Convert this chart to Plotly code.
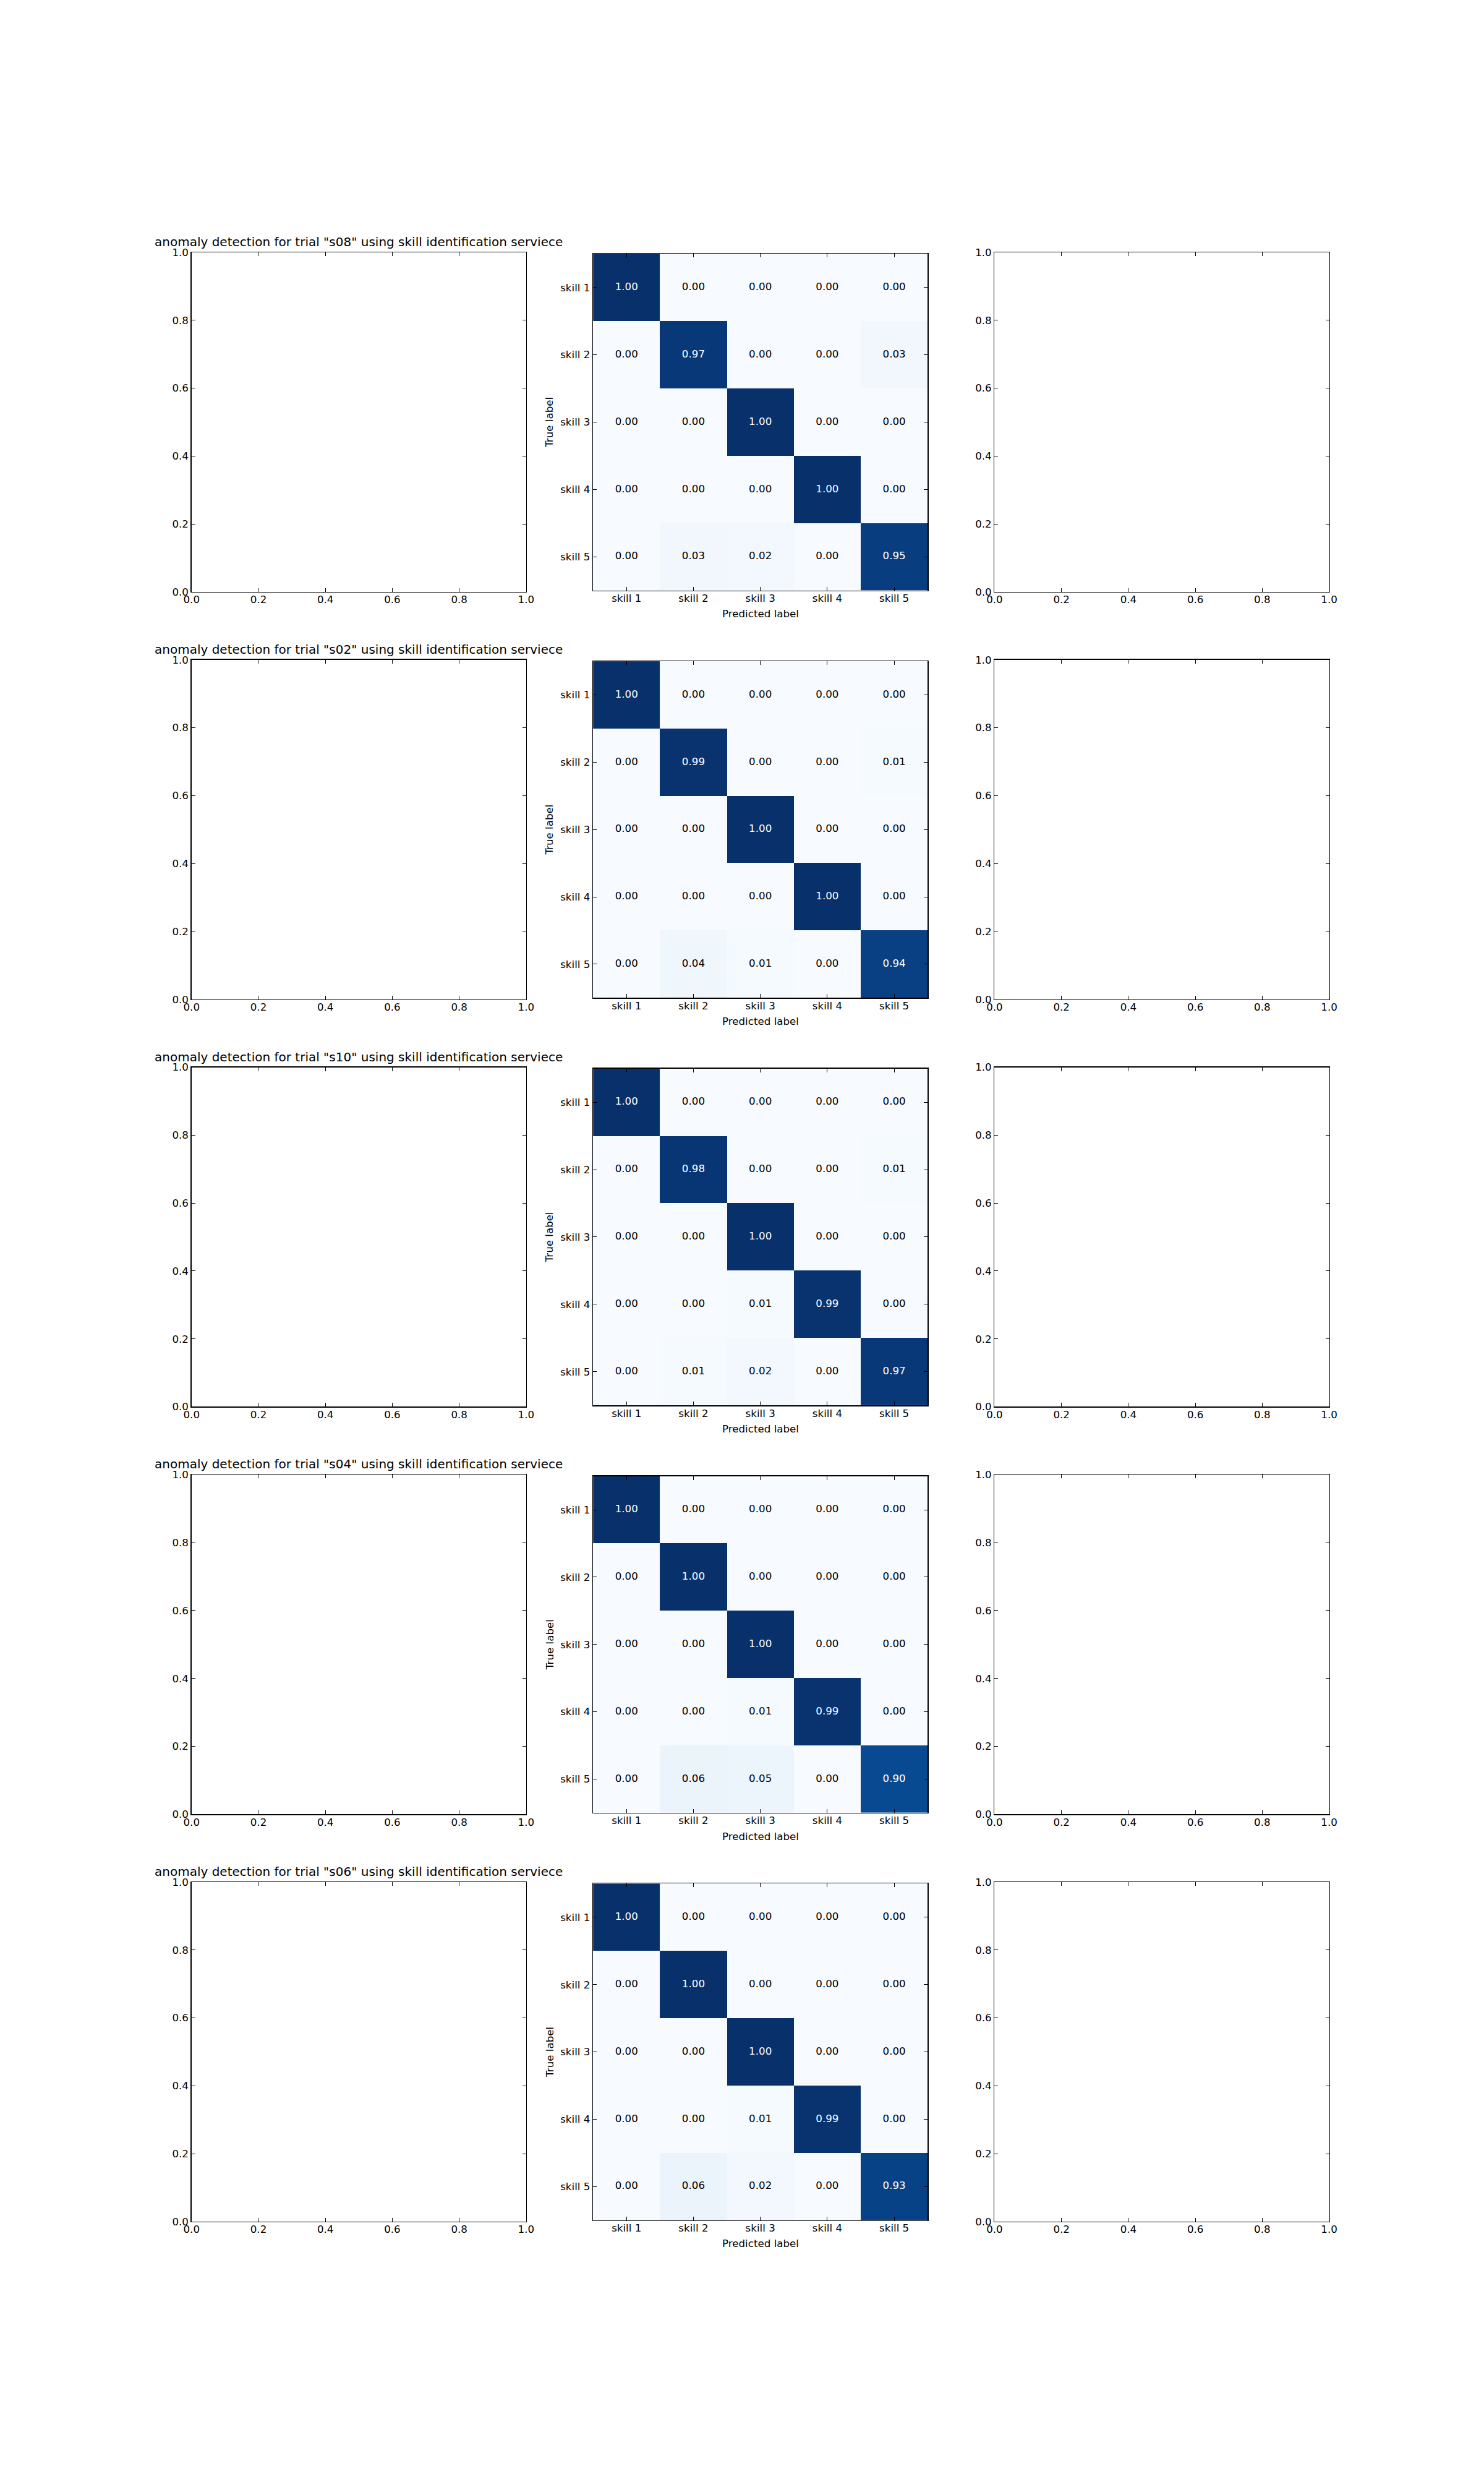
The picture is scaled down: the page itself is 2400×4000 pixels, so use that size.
import plotly.graph_objects as go

# ---------------- data ----------------
trials = ["s08", "s02", "s10", "s04", "s06"]
skills = ["skill 1", "skill 2", "skill 3", "skill 4", "skill 5"]
empty_ticks = [0.0, 0.2, 0.4, 0.6, 0.8, 1.0]

cm_s08 = [[1.00, 0.00, 0.00, 0.00, 0.00],
          [0.00, 0.97, 0.00, 0.00, 0.03],
          [0.00, 0.00, 1.00, 0.00, 0.00],
          [0.00, 0.00, 0.00, 1.00, 0.00],
          [0.00, 0.03, 0.02, 0.00, 0.95]]
cm_s02 = [[1.00, 0.00, 0.00, 0.00, 0.00],
          [0.00, 0.99, 0.00, 0.00, 0.01],
          [0.00, 0.00, 1.00, 0.00, 0.00],
          [0.00, 0.00, 0.00, 1.00, 0.00],
          [0.00, 0.04, 0.01, 0.00, 0.94]]
cm_s10 = [[1.00, 0.00, 0.00, 0.00, 0.00],
          [0.00, 0.98, 0.00, 0.00, 0.01],
          [0.00, 0.00, 1.00, 0.00, 0.00],
          [0.00, 0.00, 0.01, 0.99, 0.00],
          [0.00, 0.01, 0.02, 0.00, 0.97]]
cm_s04 = [[1.00, 0.00, 0.00, 0.00, 0.00],
          [0.00, 1.00, 0.00, 0.00, 0.00],
          [0.00, 0.00, 1.00, 0.00, 0.00],
          [0.00, 0.00, 0.01, 0.99, 0.00],
          [0.00, 0.06, 0.05, 0.00, 0.90]]
cm_s06 = [[1.00, 0.00, 0.00, 0.00, 0.00],
          [0.00, 1.00, 0.00, 0.00, 0.00],
          [0.00, 0.00, 1.00, 0.00, 0.00],
          [0.00, 0.00, 0.01, 0.99, 0.00],
          [0.00, 0.06, 0.02, 0.00, 0.93]]
matrices = [cm_s08, cm_s02, cm_s10, cm_s04, cm_s06]

# ---------------- layout geometry (matplotlib subplot grid) ----------------
W, H = 2400, 4000
L, R, B, T = 0.125, 0.9, 0.1, 0.9
WS, HS = 0.2, 0.2
ncol, nrow = 3, 5
cw = (R - L) * W / (ncol + (ncol - 1) * WS)
ch = (T - B) * H / (nrow + (nrow - 1) * HS)

FONT = "DejaVu Sans"
FS = 16.7
TITLE_FS = 20

blues = ["#f7fbff", "#deebf7", "#c6dbef", "#9ecae1", "#6baed6",
         "#4292c6", "#2171b5", "#08519c", "#08306b"]
colorscale = [[i / 8, c] for i, c in enumerate(blues)]

fig = go.Figure()
layout = {}
annotations = []


def axis_common(is_x):
    d = dict(showline=True, linecolor="black", linewidth=1.4, mirror="allticks",
             ticks="inside", ticklen=6, tickwidth=1, tickcolor="black",
             showgrid=False, zeroline=False,
             tickfont=dict(family=FONT, size=FS, color="black"))
    if is_x:
        d["ticklabelstandoff"] = -3
    return d


n = 0
for r in range(nrow):
    top_px = (1 - T) * H + r * ch * (1 + HS)
    for c in range(ncol):
        n += 1
        left_px = L * W + c * cw * (1 + WS)
        xname = "xaxis" if n == 1 else f"xaxis{n}"
        yname = "yaxis" if n == 1 else f"yaxis{n}"
        xref = "x" if n == 1 else f"x{n}"
        yref = "y" if n == 1 else f"y{n}"
        if c == 1:
            side = min(cw, ch)
            x0 = left_px + (cw - side) / 2
            y0 = top_px + (ch - side) / 2
            xd = [x0 / W, (x0 + side) / W]
            yd = [1 - (y0 + side) / H, 1 - y0 / H]
            cm = matrices[r]
            fig.add_trace(go.Heatmap(z=cm, x=skills, y=skills, colorscale=colorscale,
                                     zmin=0, zmax=1, showscale=False,
                                     xaxis=xref, yaxis=yref, hoverinfo="skip"))
            thresh = max(max(row) for row in cm) / 2
            for light in (True, False):
                xs, ys, ts = [], [], []
                for i, row in enumerate(cm):
                    for j, v in enumerate(row):
                        if (v > thresh) == light:
                            xs.append(skills[j]); ys.append(skills[i]); ts.append(f"{v:.2f}")
                fig.add_trace(go.Scatter(x=xs, y=ys, text=ts, mode="text",
                                         textfont=dict(family=FONT, size=FS,
                                                       color="white" if light else "black"),
                                         xaxis=xref, yaxis=yref, showlegend=False,
                                         hoverinfo="skip"))
            xa = axis_common(True); xa.update(domain=xd, anchor=yref, range=[-0.5, 4.5],
                                              type="category", categoryorder="array",
                                              categoryarray=skills)
            ya = axis_common(False); ya.update(domain=yd, anchor=xref, range=[4.5, -0.5],
                                               type="category", categoryorder="array",
                                               categoryarray=skills)
            layout[xname] = xa
            layout[yname] = ya
            annotations.append(dict(text="True label", xref="paper", yref="paper",
                                    x=(x0 - 71.5) / W, y=1 - (y0 + side / 2) / H,
                                    xanchor="center", yanchor="middle", textangle=-90,
                                    showarrow=False,
                                    font=dict(family=FONT, size=FS, color="black")))
            annotations.append(dict(text="Predicted label", xref="paper", yref="paper",
                                    x=(x0 + side / 2) / W, y=1 - (y0 + side + 38) / H,
                                    xanchor="center", yanchor="middle",
                                    showarrow=False,
                                    font=dict(family=FONT, size=FS, color="black")))
        else:
            xd = [left_px / W, (left_px + cw) / W]
            yd = [1 - (top_px + ch) / H, 1 - top_px / H]
            xa = axis_common(True); xa.update(domain=xd, anchor=yref, range=[0, 1],
                                              tickvals=empty_ticks, tickformat=".1f")
            ya = axis_common(False); ya.update(domain=yd, anchor=xref, range=[0, 1],
                                               tickvals=empty_ticks, tickformat=".1f")
            layout[xname] = xa
            layout[yname] = ya
            # empty trace so the subplot is drawn
            fig.add_trace(go.Scatter(x=[], y=[], xaxis=xref, yaxis=yref,
                                     showlegend=False, hoverinfo="skip"))
            if c == 0:
                annotations.append(dict(
                    text=f'anomaly detection for trial "{trials[r]}" using skill identification serviece',
                    xref="paper", yref="paper", x=(left_px + cw / 2) / W, y=1 - top_px / H,
                    xanchor="center", yanchor="bottom", yshift=3, showarrow=False,
                    font=dict(family=FONT, size=TITLE_FS, color="black")))

fig.update_layout(width=W, height=H, margin=dict(l=0, r=0, t=0, b=0),
                  paper_bgcolor="white", plot_bgcolor="white", showlegend=False,
                  annotations=annotations, **layout)

pin_to_corner = (
    "document.documentElement.style.margin='0';"
    "document.documentElement.style.overflow='hidden';"
    "document.body.style.margin='0';document.body.style.padding='0';"
    "var gd=document.getElementById('{plot_id}');"
    "gd.style.position='absolute';gd.style.left='0px';gd.style.top='0px';"
    "window.scrollTo(0,0);"
)
fig.write_html("out.html", config={"displayModeBar": False, "staticPlot": True},
               post_script=pin_to_corner)
